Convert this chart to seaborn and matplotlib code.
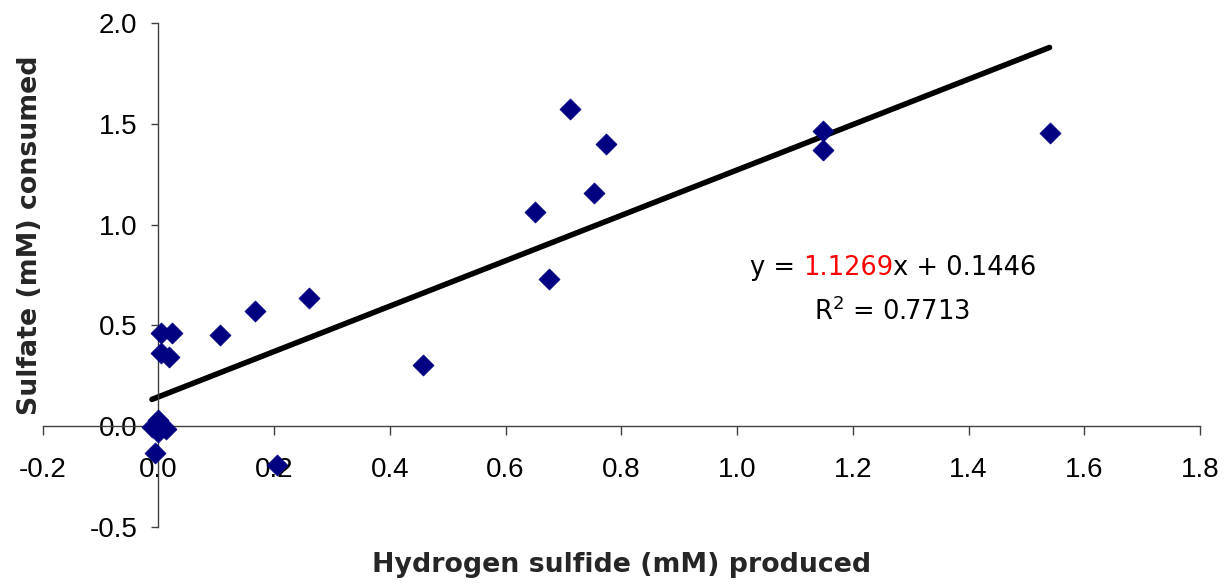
import matplotlib
matplotlib.use("Agg")
import matplotlib.pyplot as plt
import seaborn as sns
import numpy as np
import pandas as pd

# ---- data ----
h2s_produced = [1.540, 1.149, 1.149, 0.711, 0.773, 0.753, 0.651, 0.675,
                0.457, 0.261, 0.167, 0.107, 0.023, 0.004, 0.019, 0.004,
                0.205, -0.006, -0.011, 0.000, 0.014, 0.000]
sulfate_consumed = [1.453, 1.466, 1.370, 1.572, 1.400, 1.158, 1.064, 0.730,
                    0.303, 0.636, 0.571, 0.452, 0.463, 0.463, 0.344, 0.361,
                    -0.194, -0.136, -0.005, 0.030, -0.015, -0.030]
trend_slope = 1.1269
trend_intercept = 0.1446
r_squared = 0.7713

x_ticks = [-0.2, 0.0, 0.2, 0.4, 0.6, 0.8, 1.0, 1.2, 1.4, 1.6, 1.8]
y_ticks = [-0.5, 0.0, 0.5, 1.0, 1.5, 2.0]

df = pd.DataFrame({"x": h2s_produced, "y": sulfate_consumed})
trend_x = [min(h2s_produced), max(h2s_produced)]
trend_df = pd.DataFrame({"x": trend_x,
                         "y": [trend_slope * v + trend_intercept for v in trend_x]})

sns.set_style("white")
plt.rcParams['font.family'] = ['Liberation Sans', 'DejaVu Sans']

W, H = 1231, 587
fig = plt.figure(figsize=(W / 100, H / 100), dpi=100)
ax = fig.add_axes([42.6 / W, 1 - 526.7 / H, (1200 - 42.6) / W, (526.7 - 23.3) / H])

sns.lineplot(data=trend_df, x="x", y="y", ax=ax, color="black", lw=4.0,
             solid_capstyle="round", zorder=2)
sns.scatterplot(data=df, x="x", y="y", ax=ax, marker="D", color="#000080",
                s=115, edgecolor="#000080", linewidth=0.5, zorder=3)

ax.set_xlim(-0.2, 1.8)
ax.set_ylim(-0.5, 2.0)
ax.set_xticks(x_ticks)
ax.set_yticks(y_ticks)
ax.set_xticklabels([f"{v:.1f}" for v in x_ticks])
ax.set_yticklabels([f"{v:.1f}" for v in y_ticks])
ax.set_xlabel("")
ax.set_ylabel("")

for side in ["top", "right"]:
    ax.spines[side].set_visible(False)
ax.spines["left"].set_position(("data", 0))
ax.spines["bottom"].set_position(("data", 0))
for side in ["left", "bottom"]:
    ax.spines[side].set_color("#404040")
    ax.spines[side].set_linewidth(1.0)

ax.tick_params(axis="x", direction="out", length=6.5, width=1, color="#404040",
               pad=16, labelsize=20, labelcolor="black", bottom=True)
ax.tick_params(axis="y", direction="out", length=5, width=1, color="#404040",
               pad=10, labelsize=20, labelcolor="black", left=True)

fig.text(30 / W, 1 - 235 / H, "Sulfate (mM) consumed", rotation=90,
         ha="center", va="center", fontsize=19.3, fontweight="bold",
         family="DejaVu Sans")
fig.text(622 / W, 1 - 565 / H, "Hydrogen sulfide (mM) produced",
         ha="center", va="center", fontsize=19.3, fontweight="bold",
         family="DejaVu Sans")

# equation with coloured slope
fig.canvas.draw()
renderer = fig.canvas.get_renderer()
pieces = [("y = ", "black"), (f"{trend_slope:.4f}", "red"),
          (f"x + {trend_intercept:.4f}", "black")]
eq_fs = 18.5
widths = []
tmp = []
for s_, c_ in pieces:
    t = fig.text(0, 0, s_, fontsize=eq_fs, family="DejaVu Sans", color=c_)
    tmp.append(t)
for t in tmp:
    widths.append(t.get_window_extent(renderer).width)
total = sum(widths)
cx, cy = 893, H - 268
x0 = cx - total / 2
for t, w in zip(tmp, widths):
    t.set_position((x0 / W, cy / H))
    t.set_va("center")
    x0 += w
fig.text(892 / W, 1 - 312 / H, f"R$^2$ = {r_squared:.4f}", fontsize=eq_fs,
         family="DejaVu Sans", ha="center", va="center", color="black")

fig.savefig("out.png", dpi=100, facecolor="white")
